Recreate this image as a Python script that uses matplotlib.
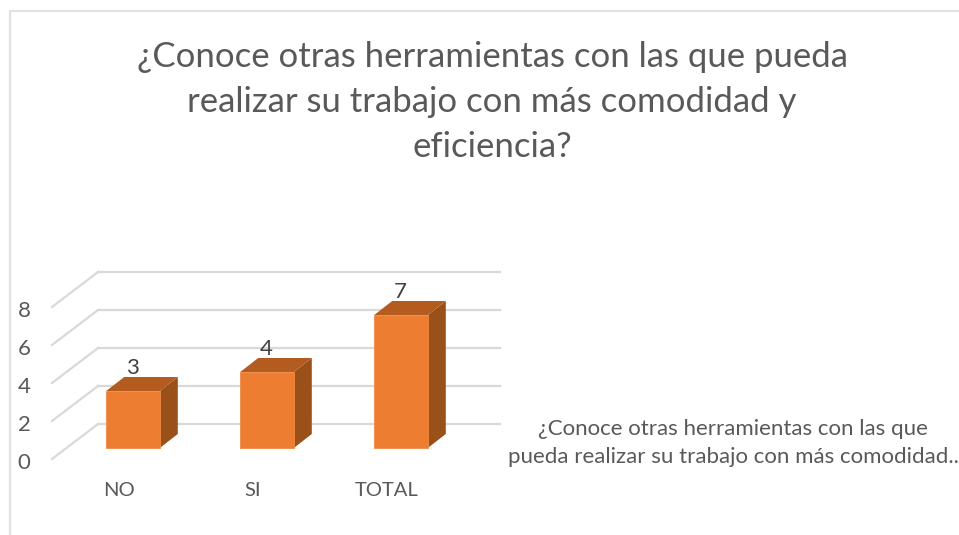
import matplotlib
matplotlib.use("Agg")
import matplotlib.pyplot as plt
from matplotlib.lines import Line2D
from matplotlib.patches import Polygon
from matplotlib.transforms import Affine2D

plt.rcParams['font.family'] = ['Lato', 'DejaVu Sans']

categories = ["NO", "SI", "TOTAL"]
values = [3, 4, 7]
y_ticks = [0, 2, 4, 6, 8]
title = "¿Conoce otras herramientas con las que pueda\nrealizar su trabajo con más comodidad y\neficiencia?"
legend_text = "¿Conoce otras herramientas con las que\npueda realizar su trabajo con más comodidad.."

W, H = 959, 535
BAR_W = 0.40
GRID = "#d9d9d9"
TEXT = "#595959"

fig = plt.figure(figsize=(W / 100, H / 100), dpi=100)
# plot plane in pixels: x 66-468, value 0 at y=448, value 8 at y=296
ax = fig.add_axes([66 / W, (H - 448) / H, 402 / W, 152 / H])
ax.set_xlim(0, 3)
ax.set_ylim(0, 8)
ax.axis("off")


# shift in screen pixels, used to fake the 3d depth
def shifted(dx, dy):
    return ax.transData + Affine2D().translate(dx, dy)


# outer frame of the chart, cut off on the right and bottom
fig.add_artist(Line2D([9.5 / W, 9.5 / W, 1], [0, (H - 11) / H, (H - 11) / H],
                      transform=fig.transFigure, color="#e2e2e2", lw=1.6))

# back wall gridlines and the slanted bit on the side wall
for t in y_ticks:
    ax.plot([0, 3], [t, t], color=GRID, lw=1.6, transform=shifted(32, 24), clip_on=False)
    x_back = shifted(32, 24).transform((0, t))
    x_front = shifted(-14, -11).transform((0, t))
    fig.add_artist(Line2D([x_front[0] / W, x_back[0] / W], [x_front[1] / H, x_back[1] / H],
                          transform=fig.transFigure, color=GRID, lw=1.6))
    ax.annotate(str(t), (0, t), xycoords=shifted(-14, -11), xytext=(-28, -4),
                textcoords="offset pixels", ha="center", va="center",
                fontsize=16, color=TEXT, annotation_clip=False)

# bars: side, top, front
for i, v in enumerate(values):
    left = i + 0.5 - BAR_W / 2
    right = i + 0.5 + BAR_W / 2
    dep = shifted(18, 14)
    trans = ax.transData
    side = [trans.transform((right, 0)), dep.transform((right, 0)),
            dep.transform((right, v)), trans.transform((right, v))]
    top = [trans.transform((left, v)), trans.transform((right, v)),
           dep.transform((right, v)), dep.transform((left, v))]
    ax.add_patch(Polygon(side, closed=True, transform=None, fc="#9a5119", ec="none", zorder=3, clip_on=False))
    ax.add_patch(Polygon(top, closed=True, transform=None, fc="#b45b20", ec="none", zorder=3, clip_on=False))
    ax.bar(i + 0.5, v, width=BAR_W, color="#ed7d31", edgecolor="#f08a45", lw=0.6, zorder=4, clip_on=False)
    ax.annotate(str(v), (i + 0.5, v), xytext=(-1, 23), textcoords="offset pixels",
                ha="center", va="center", fontsize=16, color="#404040", zorder=5)
    ax.annotate(categories[i], (i + 0.5, 0), xytext=(-14, -42), textcoords="offset pixels",
                ha="center", va="center", fontsize=14.5, color=TEXT, annotation_clip=False)

fig.text(492 / W, (H - 102) / H, title, ha="center", va="center", fontsize=25,
         color=TEXT, linespacing=1.5)
fig.text(733 / W, (H - 443) / H, legend_text, ha="center", va="center", fontsize=16,
         color=TEXT, linespacing=1.45)

fig.savefig("out.png", dpi=100, facecolor="white")
